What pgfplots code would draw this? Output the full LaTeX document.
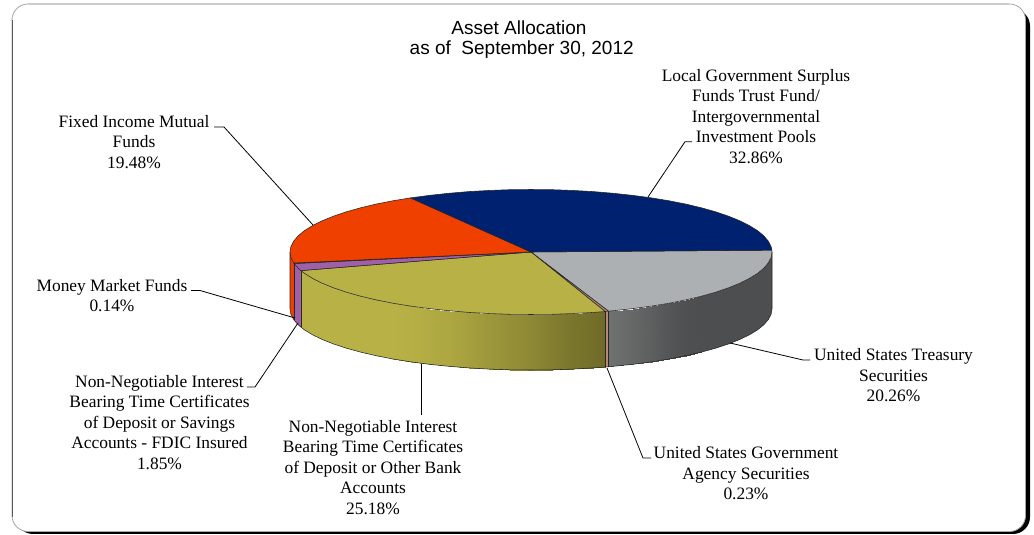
\documentclass[border=0pt]{standalone}
\usepackage{fontspec}
\setmainfont{Liberation Serif}
\newfontfamily\titlefont{Liberation Sans}
\usepackage{pgfplots}
\pgfplotsset{compat=1.18}

\definecolor{cBlue}{HTML}{002070}
\definecolor{cOrange}{HTML}{F04000}
\definecolor{cGray}{HTML}{ADB0B2}
\definecolor{cGrayWall}{HTML}{4D4E4F}
\definecolor{cYellow}{HTML}{B8B146}
\definecolor{cPurple}{HTML}{A060A8}
\definecolor{cAgency}{HTML}{B98A75}
\definecolor{cMoney}{HTML}{8A4030}

\pgfplotsset{
  colormap={wallgray}{rgb255=(77,78,79) rgb255=(112,114,114)},
  colormap={wallyellow}{rgb255=(111,107,40) rgb255=(184,177,70)},
}

\tikzset{
  edge/.style={draw=black!85,line width=0.55pt,line join=round},
  lead/.style={black,line width=0.8pt,line join=round},
  lab/.style={font=\fontsize{17.4}{20.5}\selectfont,align=center,inner sep=0pt},
  ttl/.style={font=\titlefont\fontsize{19}{22}\selectfont,inner sep=0pt},
}

\begin{document}
\begin{tikzpicture}[x=1pt,y=1pt]
% rounded panel with its hard shadow
\path (0,0) rectangle (1034,535);
\fill[black,rounded corners=17pt] (16,1) rectangle (1030,526);
\fill[white,rounded corners=16pt] (12,3.5) rectangle (1025.5,531);
\draw[black!35,line width=0.8pt,rounded corners=16pt] (12,3.5) rectangle (1025.5,531);
\fill[white] (28,529.5) rectangle (1009,533);
\draw[black!20,line width=2pt] (28,531) -- (1009,531);
\draw[black!65,line width=0.9pt] (12,18) -- (12,515);
\begin{axis}[
  at={(0,0)},anchor=south west,
  width=1034pt,height=535pt,scale only axis,
  xmin=0,xmax=1034,ymin=0,ymax=535,y dir=reverse,
  axis lines=none,clip=false,
  point meta min=0,point meta max=1,
]
% --- side walls: flat base colour ---
\addplot[fill=cOrange,draw=none] coordinates {(293.8,263) (290.9,257.45) (290,252) (290,309) (290.9,314.3) (293.8,319.7)} -- cycle;
\addplot[fill=cMoney,draw=none] coordinates {(294.1,263.5) (293.8,263) (293.8,319.7) (294.1,320.3)} -- cycle;
\addplot[fill=cPurple,draw=none] coordinates {(300.9,270.6) (298.2,268.2) (294.1,263.5) (294.1,320.3) (298.2,324.8) (300.9,327.1)} -- cycle;
\addplot[fill=cAgency,draw=none] coordinates {(608.5,311.2) (605.2,311.5) (605.2,367) (608.5,366.8)} -- cycle;
\addplot[fill=cGrayWall,draw=none] coordinates {
  (772,252) (771.1,257.45) (768.3,262.85) (763.8,268.2) (757.5,273.4) (749.4,278.4) (739.7,283.25)
  (728.4,287.85) (715.6,292.2) (701.4,296.2) (701.4,352.1)
  (715.6,348.2) (728.4,344) (739.7,339.5) (749.4,334.8) (757.5,329.9) (763.8,324.8) (768.3,319.6) (771.1,314.3) (772,309)} -- cycle;
\addplot[fill=cYellow,draw=none] coordinates {
  (392.8,303.2) (376.1,299.9) (360.6,296.2) (346.4,292.2) (333.6,287.85) (322.3,283.25) (312.6,278.4) (304.5,273.4) (300.9,270.6)
  (300.9,327.1) (304.5,329.9) (312.6,334.8) (322.3,339.5) (333.6,344) (346.4,348.2) (360.6,352.1) (376.1,355.7) (392.8,359)} -- cycle;
% --- side walls: the lit part, shaded across each facet ---
\addplot[patch,patch type=rectangle,shader=interp,colormap name=wallgray] table[point meta=\thisrow{c}] {
x y c
701.4 296.2 0
685.9 299.9 0.05
685.9 355.7 0.05
701.4 352.1 0
685.9 299.9 0.05
669.2 303.2 0.2
669.2 359 0.2
685.9 355.7 0.05
669.2 303.2 0.2
651.5 306.1 0.45
651.5 361.8 0.45
669.2 359 0.2
651.5 306.1 0.45
632.9 308.6 0.7
632.9 364.3 0.7
651.5 361.8 0.45
632.9 308.6 0.7
613.4 310.7 0.95
613.4 366.3 0.95
632.9 364.3 0.7
613.4 310.7 0.95
608.5 311.2 1
608.5 366.8 1
613.4 366.3 0.95
};
\addplot[patch,patch type=rectangle,shader=interp,colormap name=wallyellow] table[point meta=\thisrow{c}] {
x y c
605.2 311.5 0
593.4 312.4 0.06
593.4 367.9 0.06
605.2 367 0
593.4 312.4 0.06
572.8 313.55 0.15
572.8 369.1 0.15
593.4 367.9 0.06
572.8 313.55 0.15
552 314.3 0.27
552 369.8 0.27
572.8 369.1 0.15
552 314.3 0.27
531 314.5 0.42
531 370 0.42
552 369.8 0.27
531 314.5 0.42
510 314.3 0.52
510 369.8 0.52
531 370 0.42
510 314.3 0.52
489.2 313.55 0.63
489.2 369.1 0.63
510 369.8 0.52
489.2 313.55 0.63
468.6 312.4 0.75
468.6 367.9 0.75
489.2 369.1 0.63
468.6 312.4 0.75
448.6 310.7 0.85
448.6 366.3 0.85
468.6 367.9 0.75
448.6 310.7 0.85
429.1 308.6 0.92
429.1 364.3 0.92
448.6 366.3 0.85
429.1 308.6 0.92
410.5 306.1 0.97
410.5 361.8 0.97
429.1 364.3 0.92
410.5 306.1 0.97
392.8 303.2 1
392.8 359 1
410.5 361.8 0.97
};
% --- side walls: outlines ---
\addplot[edge] coordinates {(290,252) (290,309) (290.9,314.3) (293.8,319.7) (294.1,320.3) (298.2,324.8) (300.9,327.1)
  (304.5,329.9) (312.6,334.8) (322.3,339.5) (333.6,344) (346.4,348.2) (360.6,352.1) (376.1,355.7) (392.8,359) (410.5,361.8)
  (429.1,364.3) (448.6,366.3) (468.6,367.9) (489.2,369.1) (510,369.8) (531,370) (552,369.8) (572.8,369.1) (593.4,367.9) (605.2,367)
  (608.5,366.8) (613.4,366.3) (632.9,364.3) (651.5,361.8) (669.2,359) (685.9,355.7) (701.4,352.1) (715.6,348.2) (728.4,344)
  (739.7,339.5) (749.4,334.8) (757.5,329.9) (763.8,324.8) (768.3,319.6) (771.1,314.3) (772,309) (772,252)};
\addplot[edge] coordinates {(294.1,263.5) (294.1,320.3)};
\addplot[edge] coordinates {(300.9,270.6) (300.9,327.1)};
\addplot[edge] coordinates {(605.2,311.5) (605.2,367)};
\addplot[edge] coordinates {(608.5,311.2) (608.5,366.8)};
% --- top faces, one for each share of the total ---
% United States Treasury Securities 20.26
\addplot[fill=cGray,edge] coordinates {(531,252) (771.9,250.15) (772,252) (771.1,257.45) (768.3,262.85) (763.8,268.2) (757.5,273.4)
  (749.4,278.4) (739.7,283.25) (728.4,287.85) (715.6,292.2) (701.4,296.2) (685.9,299.9) (669.2,303.2) (651.5,306.1)
  (632.9,308.6) (613.4,310.7) (608.5,311.2)} -- cycle;
% United States Government Agency Securities 0.23
\addplot[fill=cAgency,edge] coordinates {(531,252) (608.5,311.2) (605.2,311.5)} -- cycle;
% Non-Negotiable ... Other Bank Accounts 25.18
\addplot[fill=cYellow,edge] coordinates {(531,252) (605.2,311.5) (593.4,312.4) (572.8,313.55) (552,314.3) (531,314.5) (510,314.3)
  (489.2,313.55) (468.6,312.4) (448.6,310.7) (429.1,308.6) (410.5,306.1) (392.8,303.2) (376.1,299.9) (360.6,296.2)
  (346.4,292.2) (333.6,287.85) (322.3,283.25) (312.6,278.4) (304.5,273.4) (300.9,270.6)} -- cycle;
% Non-Negotiable ... FDIC Insured 1.85
\addplot[fill=cPurple,edge] coordinates {(531,252) (300.9,270.6) (298.2,268.2) (294.1,263.5)} -- cycle;
% Money Market Funds 0.14
\addplot[fill=cMoney,edge] coordinates {(531,252) (294.1,263.5) (293.8,263)} -- cycle;
% Fixed Income Mutual Funds 19.48
\addplot[fill=cOrange,edge] coordinates {(531,252) (293.8,263) (293.7,262.85) (290.9,257.45) (290,252) (290.9,246.55) (293.7,241.15)
  (298.2,235.8) (304.5,230.6) (312.6,225.6) (322.3,220.75) (333.6,216.15) (346.4,211.8) (360.6,207.8) (376.1,204.1)
  (392.8,200.8) (410.5,197.9)} -- cycle;
% Local Government Surplus Funds ... 32.86
\addplot[fill=cBlue,edge] coordinates {(531,252) (410.5,197.9) (429.1,195.4) (448.6,193.3) (468.6,191.6) (489.2,190.45) (510,189.7)
  (531,189.5) (552,189.7) (572.8,190.45) (593.4,191.6) (613.4,193.3) (632.9,195.4) (651.5,197.9) (669.2,200.8) (685.9,204.1)
  (701.4,207.8) (715.6,211.8) (728.4,216.15) (739.7,220.75) (749.4,225.6) (757.5,230.6) (763.8,235.8) (768.3,241.15)
  (771.1,246.55) (771.9,250.15)} -- cycle;
% --- leader lines ---
\addplot[lead] coordinates {(648,197) (685,141.7) (692,141.7)};
\addplot[lead] coordinates {(313,225) (224,127) (214,127)};
\addplot[lead] coordinates {(295,318) (200,290.5) (191,290.5)};
\addplot[lead] coordinates {(298,323) (255,387) (247,387)};
\addplot[lead] coordinates {(421,364) (421,415)};
\addplot[lead] coordinates {(607,368) (643,458) (651,458)};
\addplot[lead] coordinates {(730,343) (803,360) (810,360)};
% --- title and labels ---
\node[ttl] at (axis cs:519,27.5) {Asset Allocation};
\node[ttl] at (axis cs:521.7,49.5) {as of\ \ September 30, 2012};
\node[lab] at (axis cs:756,116.5) {Local Government Surplus\\Funds Trust Fund/\\Intergovernmental\\Investment Pools\\32.86\%};
\node[lab] at (axis cs:134,142) {Fixed Income Mutual\\Funds\\19.48\%};
\node[lab] at (axis cs:112,295.5) {Money Market Funds\\0.14\%};
\node[lab] at (axis cs:159.5,422.5) {Non-Negotiable Interest\\Bearing Time Certificates\\of Deposit or Savings\\Accounts - FDIC Insured\\1.85\%};
\node[lab] at (axis cs:373,467.5) {Non-Negotiable Interest\\Bearing Time Certificates\\of Deposit or Other Bank\\Accounts\\25.18\%};
\node[lab] at (axis cs:746,473.5) {United States Government\\Agency Securities\\0.23\%};
\node[lab] at (axis cs:893.5,375.5) {United States Treasury\\Securities\\20.26\%};
\end{axis}
\end{tikzpicture}
\end{document}
